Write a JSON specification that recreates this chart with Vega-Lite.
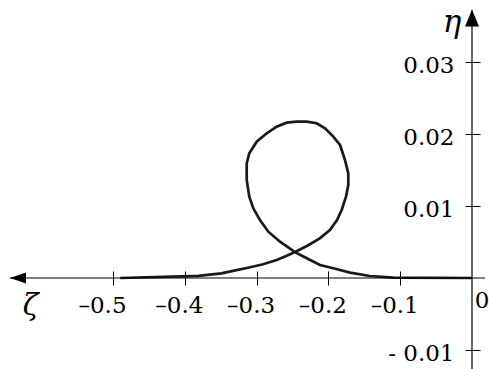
{
  "$schema": "https://vega.github.io/schema/vega-lite/v6.json",
  "width": 489,
  "height": 369,
  "autosize": {"type": "none"},
  "padding": 0,
  "background": "white",
  "config": {"view": {"stroke": null}},
  "datasets": {
    "curve": [
      {"i": 0, "x": -0.49, "y": 0},
      {"i": 1, "x": -0.381, "y": 0.0003},
      {"i": 2, "x": -0.349, "y": 0.00065},
      {"i": 3, "x": -0.328, "y": 0.0011},
      {"i": 4, "x": -0.312, "y": 0.00143},
      {"i": 5, "x": -0.291, "y": 0.0019},
      {"i": 6, "x": -0.272, "y": 0.0025},
      {"i": 7, "x": -0.258, "y": 0.0031},
      {"i": 8, "x": -0.2465, "y": 0.0036},
      {"i": 9, "x": -0.23, "y": 0.00444},
      {"i": 10, "x": -0.212, "y": 0.0055},
      {"i": 11, "x": -0.198, "y": 0.00667},
      {"i": 12, "x": -0.188, "y": 0.00806},
      {"i": 13, "x": -0.1815, "y": 0.00944},
      {"i": 14, "x": -0.1755, "y": 0.0113},
      {"i": 15, "x": -0.1723, "y": 0.0129},
      {"i": 16, "x": -0.1723, "y": 0.01454},
      {"i": 17, "x": -0.1769, "y": 0.01639},
      {"i": 18, "x": -0.1838, "y": 0.01847},
      {"i": 19, "x": -0.1932, "y": 0.01963},
      {"i": 20, "x": -0.2047, "y": 0.02079},
      {"i": 21, "x": -0.2163, "y": 0.02149},
      {"i": 22, "x": -0.2302, "y": 0.02171},
      {"i": 23, "x": -0.2442, "y": 0.02171},
      {"i": 24, "x": -0.2581, "y": 0.02157},
      {"i": 25, "x": -0.272, "y": 0.02101},
      {"i": 26, "x": -0.2859, "y": 0.0201},
      {"i": 27, "x": -0.2999, "y": 0.01893},
      {"i": 28, "x": -0.3102, "y": 0.01732},
      {"i": 29, "x": -0.3138, "y": 0.01593},
      {"i": 30, "x": -0.3138, "y": 0.01361},
      {"i": 31, "x": -0.3102, "y": 0.01129},
      {"i": 32, "x": -0.3046, "y": 0.00968},
      {"i": 33, "x": -0.2953, "y": 0.00806},
      {"i": 34, "x": -0.2837, "y": 0.00643},
      {"i": 35, "x": -0.2674, "y": 0.00504},
      {"i": 36, "x": -0.2465, "y": 0.0036},
      {"i": 37, "x": -0.2302, "y": 0.00274},
      {"i": 38, "x": -0.2117, "y": 0.0018},
      {"i": 39, "x": -0.1932, "y": 0.00135},
      {"i": 40, "x": -0.1699, "y": 0.00074},
      {"i": 41, "x": -0.1421, "y": 0.00028},
      {"i": 42, "x": -0.1096, "y": 0.00004},
      {"i": 43, "x": 0, "y": 0}
    ]
  },
  "layer": [
    {
      "data": {"name": "curve"},
      "mark": {"type": "line", "color": "#1a1a1a", "strokeWidth": 2.7, "strokeJoin": "miter"},
      "encoding": {
        "order": {"field": "i", "type": "quantitative"},
        "x": {
          "field": "x", "type": "quantitative",
          "scale": {"domain": [-0.6574, 0.02368], "nice": false, "zero": false},
          "axis": {
            "orient": "bottom", "offset": -98, "values": [-0.5, -0.4, -0.3, -0.2, -0.1],
            "domain": false, "grid": false, "title": null,
            "tickSize": 14, "tickColor": "black", "tickWidth": 1,
            "labelExpr": "'–' + format(-datum.value, '.1f')",
            "labelFont": "DejaVu Serif", "labelFontSize": 23, "labelColor": "black",
            "labelPadding": 9,
            "labelOffset": {"condition": {"test": "datum.value < -0.45", "value": -11}, "value": -6},
            "labelFlush": false, "labelOverlap": false
          }
        },
        "y": {
          "field": "y", "type": "quantitative",
          "scale": {"domain": [-0.012639, 0.03861], "nice": false, "zero": false},
          "axis": {
            "orient": "left", "offset": -480, "values": [0.03, 0.02, 0.01, -0.01],
            "domain": false, "grid": false, "title": null,
            "tickSize": 15, "tickColor": "black", "tickWidth": 1,
            "labelExpr": "datum.value < 0 ? '- ' + format(-datum.value, '.2f') : format(datum.value, '.2f')",
            "labelFont": "DejaVu Serif", "labelFontSize": 23, "labelColor": "black",
            "labelPadding": 11, "labelOffset": 4, "labelFlush": false, "labelOverlap": false
          }
        }
      }
    },
    {
      "data": {"values": [{}]},
      "mark": {"type": "rule", "color": "black", "strokeWidth": 1.2},
      "encoding": {
        "x": {"datum": -0.6435, "type": "quantitative"},
        "x2": {"datum": 0.0181},
        "y": {"datum": 0, "type": "quantitative"}
      }
    },
    {
      "data": {"values": [{}]},
      "mark": {"type": "rule", "color": "black", "strokeWidth": 1.2},
      "encoding": {
        "x": {"datum": 0, "type": "quantitative"},
        "y": {"datum": -0.0127, "type": "quantitative"},
        "y2": {"datum": 0.0372}
      }
    },
    {
      "data": {"values": [{}]},
      "mark": {"type": "point", "shape": "M0,0 L2,-0.7 L2,0.7 Z", "size": 256, "filled": true, "color": "black", "opacity": 1},
      "encoding": {
        "x": {"datum": -0.6435, "type": "quantitative"},
        "y": {"datum": 0, "type": "quantitative"}
      }
    },
    {
      "data": {"values": [{}]},
      "mark": {"type": "point", "shape": "M0,0 L-0.82,2 L0.82,2 Z", "size": 289, "filled": true, "color": "black", "opacity": 1},
      "encoding": {
        "x": {"datum": 0, "type": "quantitative"},
        "y": {"datum": 0.0373, "type": "quantitative"}
      }
    },
    {
      "data": {"values": [{}]},
      "mark": {"type": "text", "text": "0", "font": "DejaVu Serif", "fontSize": 23, "color": "black", "align": "center", "baseline": "middle", "dx": 10, "dy": 23},
      "encoding": {
        "x": {"datum": 0, "type": "quantitative"},
        "y": {"datum": 0, "type": "quantitative"}
      }
    },
    {
      "data": {"values": [{}]},
      "mark": {"type": "text", "text": "ζ", "font": "DejaVu Serif", "fontStyle": "italic", "fontSize": 29, "color": "black", "align": "center", "baseline": "middle", "dx": 1, "dy": 28},
      "encoding": {
        "x": {"datum": -0.616, "type": "quantitative"},
        "y": {"datum": 0, "type": "quantitative"}
      }
    },
    {
      "data": {"values": [{}]},
      "mark": {"type": "text", "text": "η", "font": "DejaVu Serif", "fontStyle": "italic", "fontSize": 31, "color": "black", "align": "center", "baseline": "middle", "dx": -20, "dy": 13},
      "encoding": {
        "x": {"datum": 0, "type": "quantitative"},
        "y": {"datum": 0.0372, "type": "quantitative"}
      }
    }
  ]
}
